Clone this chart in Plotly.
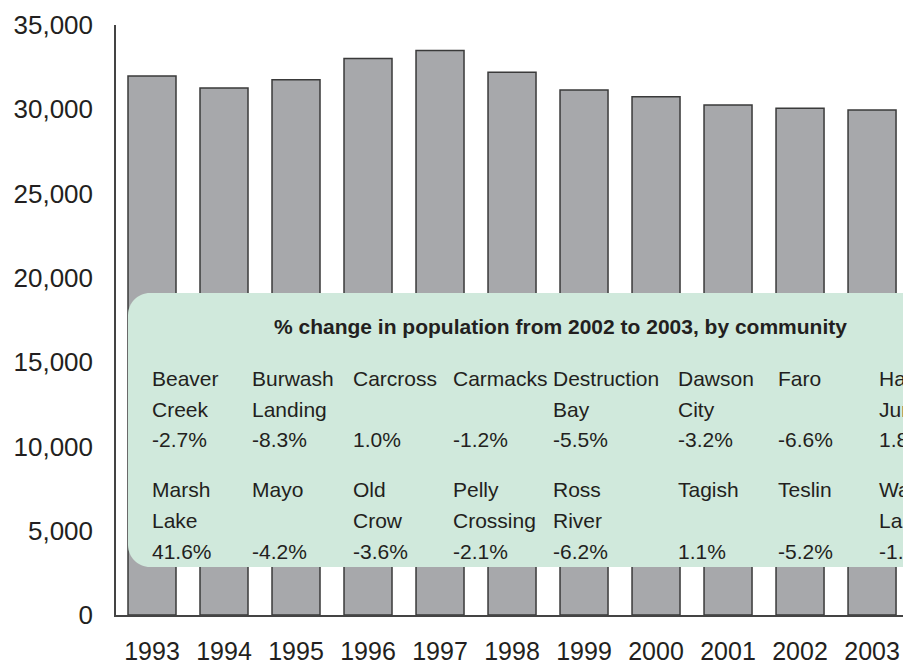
import plotly.graph_objects as go

# ---- data ----
years = ["1993", "1994", "1995", "1996", "1997", "1998", "1999", "2000", "2001", "2002", "2003"]
population = [31975, 31265, 31755, 33020, 33480, 32195, 31145, 30750, 30255, 30060, 29960]

row1_names = ["Beaver Creek", "Burwash Landing", "Carcross", "Carmacks", "Destruction Bay",
              "Dawson City", "Faro", "Haines Junction"]
row1_pct = ["-2.7%", "-8.3%", "1.0%", "-1.2%", "-5.5%", "-3.2%", "-6.6%", "1.8%"]
row2_names = ["Marsh Lake", "Mayo", "Old Crow", "Pelly Crossing", "Ross River",
              "Tagish", "Teslin", "Watson Lake"]
row2_pct = ["41.6%", "-4.2%", "-3.6%", "-2.1%", "-6.2%", "1.1%", "-5.2%", "-1.0%"]
box_title = "% change in population from 2002 to 2003, by community"

# ---- layout geometry (pixels) ----
W, H = 903, 666
ML, MT, MB, MR = 116, 25, 51, 0
PW, PH = W - ML - MR, H - MT - MB
FONT = "Liberation Sans, Arial, Helvetica, sans-serif"
TXT = "#231f20"


def px(x):
    return (x - ML) / PW


def py(y):
    return (H - MB - y) / PH


fig = go.Figure()
fig.add_trace(go.Bar(
    x=years, y=population,
    marker=dict(color="#a7a8ab", line=dict(color="#3a3a3a", width=1.5)),
    hoverinfo="skip",
))

# rounded box (pixel geometry converted to paper coordinates)
x0, x1, y0, y1, r = 128, 940, 293, 567, 22
k = 0.5523
pts = [
    ("M", [(x0 + r, y0)]),
    ("L", [(x1, y0)]),
    ("L", [(x1, y1)]),
    ("L", [(x0 + r, y1)]),
    ("C", [(x0 + r - k * r, y1), (x0, y1 - r + k * r), (x0, y1 - r)]),
    ("L", [(x0, y0 + r)]),
    ("C", [(x0, y0 + r - k * r), (x0 + r - k * r, y0), (x0 + r, y0)]),
]
path = ""
for cmd, ps in pts:
    path += cmd + " " + " ".join(f"{px(a):.5f},{py(b):.5f}" for a, b in ps) + " "
path += "Z"

shapes = [dict(type="path", xref="paper", yref="paper", path=path,
               fillcolor="#d0e9dc", line=dict(width=0), layer="above")]

annotations = []
annotations.append(dict(text="<b>" + box_title + "</b>", xref="paper", yref="paper",
                        x=px(560), y=py(327), xanchor="center", yanchor="middle",
                        showarrow=False, font=dict(family=FONT, size=21, color=TXT)))

col_x = [150, 250, 351, 451, 551, 676, 776, 877]
rows = [(row1_names, row1_pct, [378, 409, 439]), (row2_names, row2_pct, [489, 520, 551])]
for names, pcts, ys in rows:
    for i, (nm, pc) in enumerate(zip(names, pcts)):
        parts = nm.split(" ")
        lines = parts + [""] * (2 - len(parts)) + [pc]
        for ln, yy in zip(lines, ys):
            if not ln:
                continue
            annotations.append(dict(text=ln, xref="paper", yref="paper",
                                    x=px(col_x[i]), y=py(yy), xanchor="left", yanchor="middle",
                                    showarrow=False,
                                    font=dict(family=FONT, size=21, color=TXT)))

fig.update_layout(
    width=W, height=H,
    margin=dict(l=ML, r=MR, t=MT, b=MB, pad=0, autoexpand=False),
    paper_bgcolor="white", plot_bgcolor="white",
    bargap=1/3,
    showlegend=False,
    shapes=shapes,
    annotations=annotations,
    font=dict(family=FONT, color=TXT),
    xaxis=dict(type="category", range=[-0.5, 10.43], showline=True, linecolor="#444",
               linewidth=1.5, ticks="", showgrid=False, tickfont=dict(size=25, color=TXT),
               ticklabelstandoff=13, automargin=False, fixedrange=True),
    yaxis=dict(range=[0, 35000], tickvals=[0, 5000, 10000, 15000, 20000, 25000, 30000, 35000],
               tickformat=",", showline=True, linecolor="#444", linewidth=1.5, ticks="",
               showgrid=False, zeroline=False, tickfont=dict(size=26, color=TXT),
               ticklabelstandoff=16, automargin=False, fixedrange=True),
)

fig.write_html("out.html", config=dict(displayModeBar=False),
               post_script="document.body.style.margin='0';document.body.style.overflow='hidden';")
